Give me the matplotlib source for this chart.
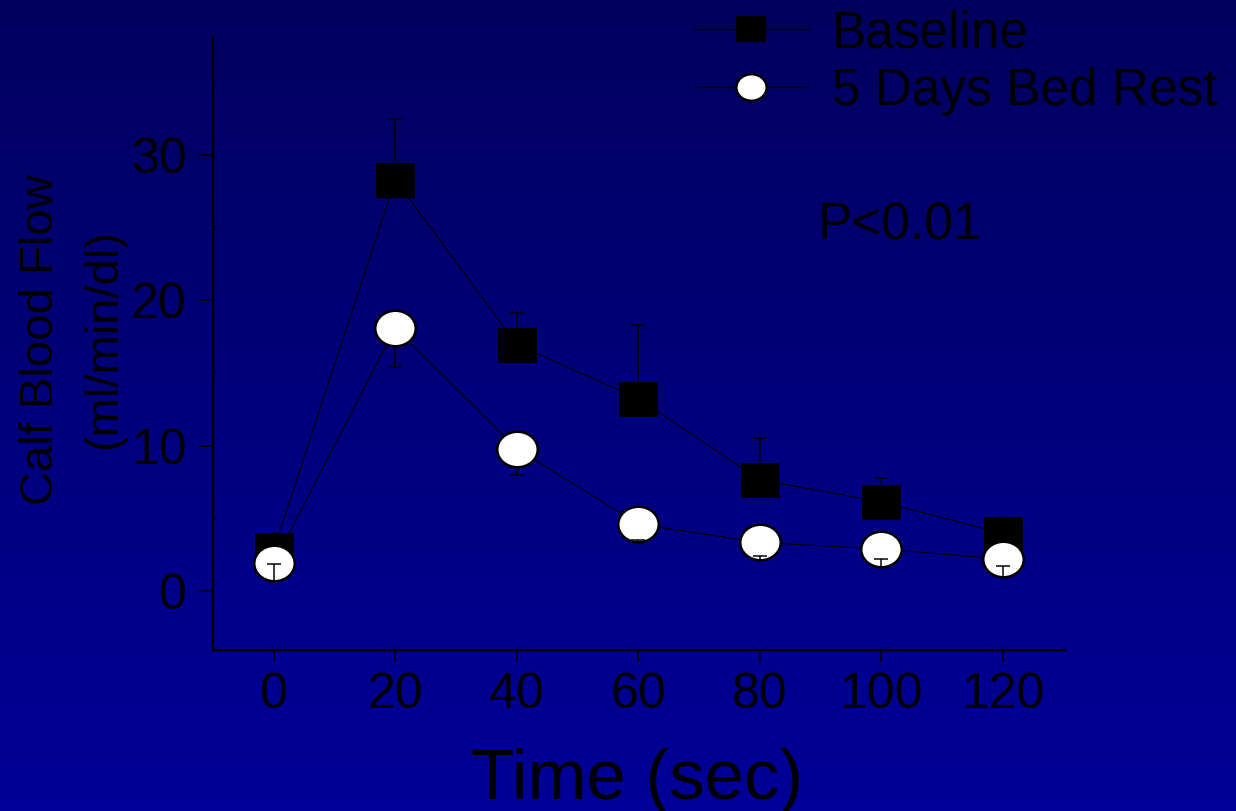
import numpy as np
import matplotlib
matplotlib.use("Agg")
import matplotlib.pyplot as plt
from matplotlib.path import Path
from matplotlib.lines import Line2D

# ---------------- data ----------------
time_sec = [0, 20, 40, 60, 80, 100, 120]
baseline = [2.85, 28.3, 16.95, 13.25, 7.65, 6.15, 3.95]
baseline_err = [0.25, 4.2, 2.2, 5.05, 2.9, 1.65, 0.6]
bedrest = [1.95, 18.1, 9.8, 4.6, 3.35, 2.9, 2.2]
bedrest_err = [0.05, 2.7, 1.8, 1.05, 0.9, 0.72, 0.48]
x_ticks = [0, 20, 40, 60, 80, 100, 120]
y_ticks = [0, 10, 20, 30]
series_labels = ["Baseline", "5 Days Bed Rest"]

plt.rcParams['font.family'] = ['Liberation Sans', 'DejaVu Sans']

W, H, DPI = 1236, 811, 100
fig = plt.figure(figsize=(W / DPI, H / DPI), dpi=DPI)

# background gradient
bg = fig.add_axes([0, 0, 1, 1], zorder=0)
grad = np.linspace(0, 1, 256).reshape(-1, 1)
top = np.array([0.0, 0.0, 0.37])
bot = np.array([0.0, 0.0, 0.60])
img = top + (bot - top) * grad[:, :, None]
bg.imshow(img, aspect='auto', extent=[0, 1, 0, 1], origin='upper')
bg.set_axis_off()

ax = fig.add_axes([213 / W, 161 / H, (1065 - 213) / W, (650 - 38) / H], zorder=1)
ax.set_facecolor('none')
ax.set_xlim(-10, 130.2)
ax.set_ylim(-4.05, 38.05)

# custom markers (slightly non-square like the original)
sq_h = 35 / 39
square = Path([(-1, -sq_h), (1, -sq_h), (1, sq_h), (-1, sq_h), (-1, -sq_h)],
              [Path.MOVETO, Path.LINETO, Path.LINETO, Path.LINETO, Path.CLOSEPOLY])
uc = Path.unit_circle()
ell = Path(uc.vertices * np.array([1.0, 0.877]), uc.codes)

pt = 72 / DPI
sq_ms = 39 * pt
el_ms = 40.5 * pt
el_mew = 2.5 * pt

ax.plot(time_sec, baseline, color='black', lw=1.1 * pt, zorder=2)
ax.plot(time_sec, bedrest, color='black', lw=1.1 * pt, zorder=2)
ax.plot(time_sec, baseline, ls='none', marker=square, ms=sq_ms, mfc='black',
        mec='black', mew=0, zorder=3)
ax.plot(time_sec, bedrest, ls='none', marker=ell, ms=el_ms, mfc='white',
        mec='black', mew=el_mew, zorder=4)

# error bars drawn from the marker edge to the cap (SigmaPlot style)
px_per_unit = (ax.transData.transform((0, 1)) - ax.transData.transform((0, 0)))[1]
sq_half = (39 * sq_h / 2) / px_per_unit
el_half = (40.5 * 0.877 / 2 + 1.25) / px_per_unit
b = np.array(baseline); be = np.array(baseline_err)
r = np.array(bedrest); re = np.array(bedrest_err)
ax.vlines(time_sec, b + sq_half, b + be, color='black', lw=1.5 * pt, zorder=5)
ax.plot(time_sec, b + be, ls='none', marker='_', ms=14 * pt, mew=1.5 * pt,
        color='black', zorder=5)
ax.vlines(time_sec, r - el_half, r - re, color='black', lw=1.5 * pt, zorder=5)
ax.plot(time_sec, r - re, ls='none', marker='_', ms=14 * pt, mew=1.5 * pt,
        color='black', zorder=5)

# axes styling
for s in ['top', 'right']:
    ax.spines[s].set_visible(False)
for s in ['left', 'bottom']:
    ax.spines[s].set_linewidth(2.4 * pt)
    ax.spines[s].set_color('black')
ax.set_xticks(x_ticks)
ax.set_yticks(y_ticks)
ax.set_yticks([5, 15, 25, 35], minor=True)
ax.tick_params(axis='both', which='major', direction='out', color='black',
               width=1.6 * pt, labelsize=36, labelcolor='black')
ax.tick_params(axis='x', which='major', length=12 * pt, pad=7)
ax.tick_params(axis='y', which='major', length=14 * pt, pad=9)
ax.tick_params(axis='y', which='minor', direction='in', length=3 * pt, width=1.5 * pt,
               color='black')
ax.tick_params(axis='x', which='minor', bottom=False)

# y label, two lines
fig.text(41 / W, 1 - 340 / H, "Calf Blood Flow", rotation=90, ha='center', va='center',
         fontsize=34, color='black')
fig.text(104 / W, 1 - 339 / H, "(ml/min/dl)", rotation=90, ha='center', va='center',
         fontsize=34, color='black')

# x label
fig.text(637 / W, 1 - 799 / H, "Time (sec)", ha='center', va='baseline',
         fontsize=51, color='black')

# p value
fig.text(818 / W, 1 - 240 / H, "P<0.01", ha='left', va='baseline', fontsize=37,
         color='black')

# legend
handles = [
    Line2D([], [], color='black', lw=1.3 * pt, marker=square, ms=sq_ms, mfc='black',
           mec='black', mew=0),
    Line2D([], [], color='black', lw=1.3 * pt, marker=ell, ms=el_ms, mfc='white',
           mec='black', mew=el_mew),
]
leg = fig.legend(handles, series_labels, loc='upper left',
                 bbox_to_anchor=(694 / W, 1 - 9 / H), frameon=False, fontsize=37,
                 markerscale=0.75, handlelength=114 / 51, handletextpad=0.45,
                 labelspacing=0.17, borderpad=0.0, borderaxespad=0.0)
for t in leg.get_texts():
    t.set_color('black')

fig.savefig("out.png", dpi=DPI)
